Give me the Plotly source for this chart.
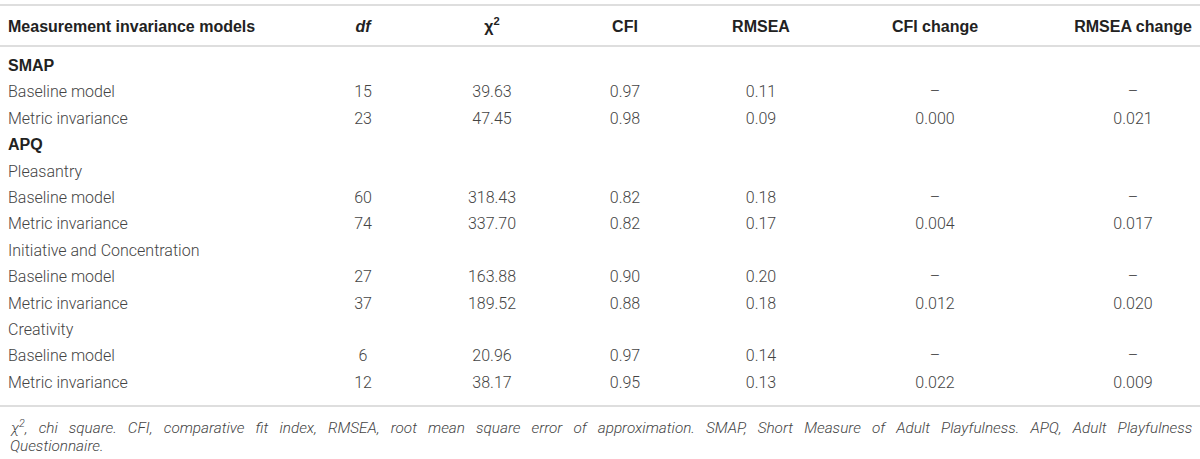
import plotly.graph_objects as go

# table content
headers = ["Measurement invariance models", "<i>df</i>", "χ<sup>2</sup>", "CFI", "RMSEA",
           "CFI change", "RMSEA change"]
models = ["SMAP", "Baseline model", "Metric invariance", "APQ", "Pleasantry",
          "Baseline model", "Metric invariance", "Initiative and Concentration",
          "Baseline model", "Metric invariance", "Creativity",
          "Baseline model", "Metric invariance"]
group_rows = ["SMAP", "APQ"]
df = ["", "15", "23", "", "", "60", "74", "", "27", "37", "", "6", "12"]
chi2 = ["", "39.63", "47.45", "", "", "318.43", "337.70", "", "163.88", "189.52",
        "", "20.96", "38.17"]
cfi = ["", "0.97", "0.98", "", "", "0.82", "0.82", "", "0.90", "0.88", "", "0.97", "0.95"]
rmsea = ["", "0.11", "0.09", "", "", "0.18", "0.17", "", "0.20", "0.18", "", "0.14", "0.13"]
cfi_change = ["", "–", "0.000", "", "", "–", "0.004", "", "–", "0.012", "", "–", "0.022"]
rmsea_change = ["", "–", "0.021", "", "", "–", "0.017", "", "–", "0.020", "", "–", "0.009"]
footnote_1 = ("χ<sup>2</sup>, chi square. CFI, comparative fit index, RMSEA, root mean square "
              "error of approximation. SMAP, Short Measure of Adult Playfulness. APQ, Adult "
              "Playfulness")
footnote_2 = "Questionnaire."

# layout (pixel space)
W, H = 1200, 459
col_x = [8, 363, 492, 625, 761, 935, 1133]
header_y = 28
row_top = 67
row_step = 26.4
row_y = [row_top + i * row_step for i in range(len(models))]

body_font = dict(family="Roboto", size=16, color="#444444", weight=300)
bold_font = dict(family="Liberation Sans", size=16, color="#222222", weight="bold")
line_col = "#dedede"

fig = go.Figure()

# header row
fig.add_trace(go.Scatter(x=[col_x[0]], y=[header_y], text=[headers[0]], mode="text",
                         textposition="middle right", textfont=bold_font,
                         hoverinfo="skip"))
fig.add_trace(go.Scatter(x=col_x[1:], y=[header_y] * 6, text=headers[1:], mode="text",
                         textposition="middle center", textfont=bold_font,
                         hoverinfo="skip"))

# first column
plain = [(m, y) for m, y in zip(models, row_y) if m not in group_rows]
grp = [(m, y) for m, y in zip(models, row_y) if m in group_rows]
fig.add_trace(go.Scatter(x=[col_x[0]] * len(plain), y=[p[1] for p in plain],
                         text=[p[0] for p in plain], mode="text",
                         textposition="middle right", textfont=body_font, hoverinfo="skip"))
fig.add_trace(go.Scatter(x=[col_x[0]] * len(grp), y=[g[1] for g in grp],
                         text=[g[0] for g in grp], mode="text",
                         textposition="middle right", textfont=bold_font, hoverinfo="skip"))

# numeric columns (skip empty cells)
for cx, col in zip(col_x[1:], [df, chi2, cfi, rmsea, cfi_change, rmsea_change]):
    cells = [(v, y) for v, y in zip(col, row_y) if v]
    fig.add_trace(go.Scatter(x=[cx] * len(cells), y=[c[1] for c in cells],
                             text=[c[0] for c in cells], mode="text",
                             textposition="middle center", textfont=body_font,
                             hoverinfo="skip"))

# rules
for yy in [5, 46, 406]:
    fig.add_shape(type="line", x0=0, x1=W, y0=yy, y1=yy, xref="x", yref="y",
                  line=dict(color=line_col, width=2))

# footnote, first line stretched to full width
gap = " " + "\u00a0" * 2
note_font = dict(family="Roboto", size=15.3, color="#444444", weight=300, style="italic")
fig.add_annotation(x=col_x[0], y=427, xref="x", yref="y", text=footnote_1.replace(" ", gap),
                   showarrow=False, xanchor="left", yanchor="middle", font=note_font)
fig.add_annotation(x=col_x[0], y=446, xref="x", yref="y", text=footnote_2,
                   showarrow=False, xanchor="left", yanchor="middle", font=note_font)

fig.update_xaxes(range=[0, W], visible=False, fixedrange=True)
fig.update_yaxes(range=[H, 0], visible=False, fixedrange=True)
fig.update_layout(width=W, height=H, margin=dict(l=0, r=0, t=0, b=0),
                  paper_bgcolor="white", plot_bgcolor="white", showlegend=False)

fig.write_html("out.html", config={"displayModeBar": False},
               post_script="document.body.style.margin='0';")
